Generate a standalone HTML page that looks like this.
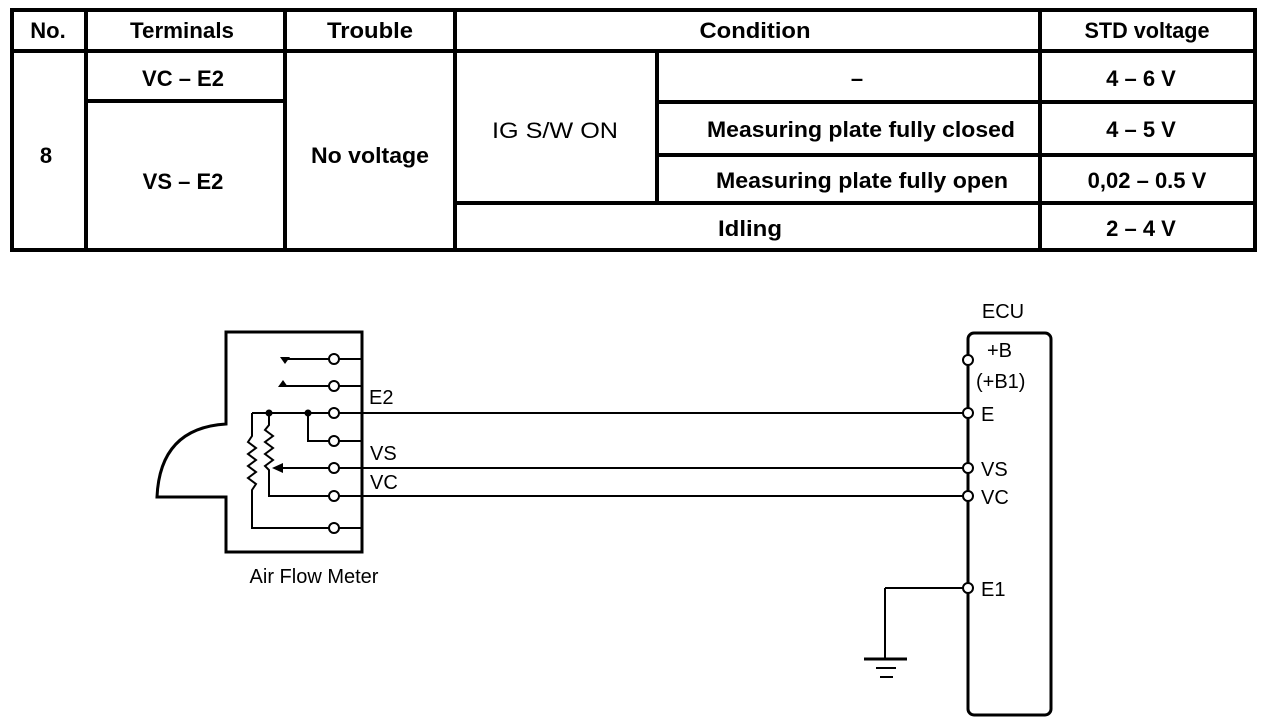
<!DOCTYPE html>
<html><head><meta charset="utf-8"><style>
html,body{margin:0;padding:0;background:#fff;}
svg{display:block;}
.b{font-family:"Liberation Sans",Arial,sans-serif;font-weight:bold;font-size:22px;fill:#000;}
.r{font-family:"Liberation Sans",Arial,sans-serif;font-size:20px;fill:#000;}
</style></head><body>
<svg width="1280" height="726" viewBox="0 0 1280 726" xmlns="http://www.w3.org/2000/svg">
<g stroke="#000" stroke-width="4" fill="none">
<rect x="12" y="10" width="1243" height="240"/>
<line x1="12" y1="51" x2="1255" y2="51"/>
<line x1="86" y1="10" x2="86" y2="250"/>
<line x1="285" y1="10" x2="285" y2="250"/>
<line x1="455" y1="10" x2="455" y2="250"/>
<line x1="1040" y1="10" x2="1040" y2="250"/>
<line x1="657" y1="51" x2="657" y2="203"/>
<line x1="86" y1="101" x2="285" y2="101"/>
<line x1="657" y1="102" x2="1255" y2="102"/>
<line x1="657" y1="155" x2="1255" y2="155"/>
<line x1="455" y1="203" x2="1255" y2="203"/>
</g>
<g class="b" text-anchor="middle">
<text x="48" y="38">No.</text>
<text x="182" y="38" textLength="104" lengthAdjust="spacingAndGlyphs">Terminals</text>
<text x="370" y="38" textLength="86" lengthAdjust="spacingAndGlyphs">Trouble</text>
<text x="755" y="38" textLength="111" lengthAdjust="spacingAndGlyphs">Condition</text>
<text x="1147" y="38" textLength="125" lengthAdjust="spacingAndGlyphs">STD voltage</text>
<text x="183" y="86">VC – E2</text>
<text x="46" y="163">8</text>
<text x="183" y="189">VS – E2</text>
<text x="370" y="163" textLength="118" lengthAdjust="spacingAndGlyphs">No voltage</text>
<text x="555" y="138" font-weight="normal" textLength="126" lengthAdjust="spacingAndGlyphs">IG S/W ON</text>
<text x="857" y="86">–</text>
<text x="861" y="137" textLength="308" lengthAdjust="spacingAndGlyphs">Measuring plate fully closed</text>
<text x="862" y="188" textLength="292" lengthAdjust="spacingAndGlyphs">Measuring plate fully open</text>
<text x="750" y="236" textLength="64" lengthAdjust="spacingAndGlyphs">Idling</text>
<text x="1141" y="86">4 – 6 V</text>
<text x="1141" y="137">4 – 5 V</text>
<text x="1147" y="188">0,02 – 0.5 V</text>
<text x="1141" y="236">2 – 4 V</text>
</g>
<g stroke="#000" fill="none" stroke-width="3">
<path d="M362,332 H226 V424 Q160,428 157,497 H226 V552 H362 Z"/>
</g>
<g stroke="#000" fill="none" stroke-width="2">
<line x1="285" y1="359" x2="362" y2="359"/>
<line x1="283" y1="386" x2="362" y2="386"/>
<line x1="252" y1="413" x2="968" y2="413"/>
<polyline points="308,413 308,441 362,441"/>
<line x1="276" y1="468" x2="968" y2="468"/>
<polyline points="269,413 269,425 265,430 273,436 265,442 273,448 265,454 273,460 265,466 269,470 269,496 968,496"/>
<polyline points="252,413 252,436 248,442 256,448 248,454 256,460 248,466 256,472 248,478 256,484 252,490 252,528 362,528"/>
<line x1="885" y1="588" x2="968" y2="588"/>
<polyline points="885,588 885,659"/>
<line x1="864" y1="659" x2="907" y2="659" stroke-width="3"/>
<line x1="876" y1="668" x2="896" y2="668"/>
<line x1="880" y1="677" x2="893" y2="677"/>
</g>
<g fill="#000">
<path d="M280,357 L290,357 L285,364 Z"/>
<path d="M278,387 L288,387 L283,380 Z"/>
<circle cx="269" cy="413" r="3.5"/>
<circle cx="308" cy="413" r="3.5"/>
<path d="M272,468 L283,463 L283,473 Z"/>
</g>
<g stroke="#000" stroke-width="2" fill="#fff">
<circle cx="334" cy="359" r="5"/>
<circle cx="334" cy="386" r="5"/>
<circle cx="334" cy="413" r="5"/>
<circle cx="334" cy="441" r="5"/>
<circle cx="334" cy="468" r="5"/>
<circle cx="334" cy="496" r="5"/>
<circle cx="334" cy="528" r="5"/>
</g>
<g class="r">
<text x="369" y="404">E2</text>
<text x="370" y="460">VS</text>
<text x="370" y="489">VC</text>
<text x="314" y="583" text-anchor="middle">Air Flow Meter</text>
</g>
<rect x="968" y="333" width="83" height="382" rx="6" stroke="#000" stroke-width="3" fill="none"/>
<g stroke="#000" stroke-width="2" fill="#fff">
<circle cx="968" cy="360" r="5"/>
<circle cx="968" cy="413" r="5"/>
<circle cx="968" cy="468" r="5"/>
<circle cx="968" cy="496" r="5"/>
<circle cx="968" cy="588" r="5"/>
</g>
<g class="r">
<text x="1003" y="318" text-anchor="middle">ECU</text>
<text x="987" y="357">+B</text>
<text x="976" y="388">(+B1)</text>
<text x="981" y="421">E</text>
<text x="981" y="476">VS</text>
<text x="981" y="504">VC</text>
<text x="981" y="596">E1</text>
</g>
</svg>
</body></html>
